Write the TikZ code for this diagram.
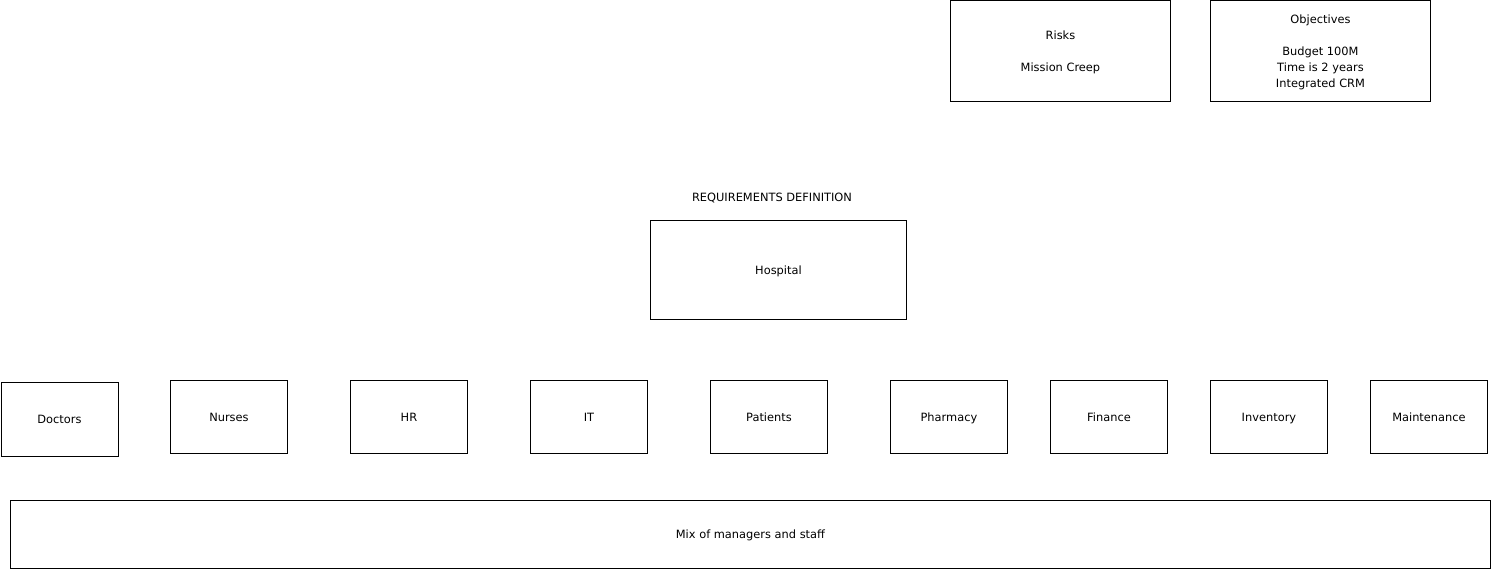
\documentclass[tikz,border=0pt]{standalone}
\usepackage{fontspec}
\setmainfont{DejaVu Sans}
\begin{document}
\begin{tikzpicture}[x=1pt,y=-1pt,
  every node/.style={font=\fontsize{11.4}{16}\selectfont},
  box/.style={draw=black,line width=0.9pt,inner sep=0pt,align=center,anchor=north west,text depth=0pt},
  lbl/.style={inner sep=0pt,align=center}]
\useasboundingbox[fill=white] (0,0) rectangle (1491,569);
% top row: risks and objectives
\node[box,minimum width=220pt,minimum height=101pt] (risks) at (950,0.5) {Risks\\[16pt]Mission Creep};
\node[box,minimum width=220pt,minimum height=101pt] (obj) at (1210,0.5) {Objectives\\[16pt]Budget 100M\\Time is 2 years\\Integrated CRM};
% title and central box
\node[lbl] (title) at (772,198) {REQUIREMENTS DEFINITION};
\node[box,minimum width=256pt,minimum height=99pt] (hosp) at (650,220) {Hospital};
% stakeholder groups
\node[box,minimum width=117pt,minimum height=74pt] (doc) at (0.5,382) {Doctors};
\foreach \n/\t/\x in {nur/Nurses/170,hr/HR/350,it/IT/530,pat/Patients/710,pha/Pharmacy/890,fin/Finance/1050,inv/Inventory/1210,mai/Maintenance/1370}
  \node[box,minimum width=117pt,minimum height=73pt] (\n) at (\x,380) {\t};
% bottom band
\node[box,minimum width=1480pt,minimum height=68pt] (mix) at (10,500) {Mix of managers and staff};
\end{tikzpicture}
\end{document}
